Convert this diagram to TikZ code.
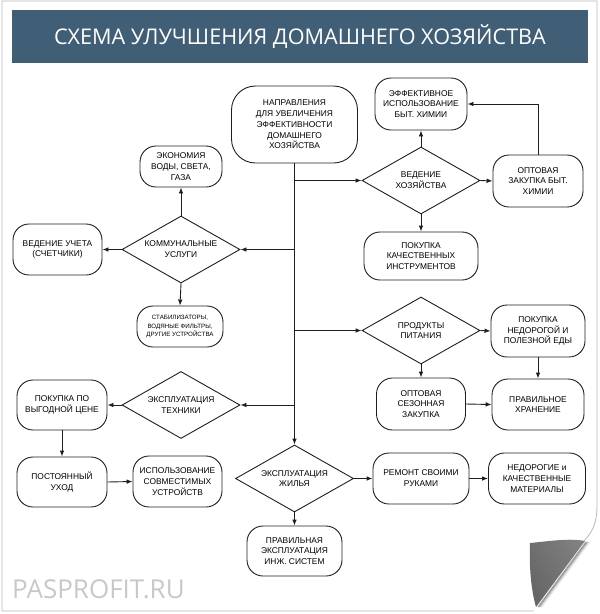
\documentclass[tikz,border=0pt]{standalone}
\usepackage{fontspec}
\setmainfont{Liberation Sans}
\newfontfamily\titlefont{Open Sans}
\usetikzlibrary{arrows.meta, positioning, shapes.geometric, calc}

\definecolor{barblue}{HTML}{405E75}
\definecolor{framegray}{HTML}{B8B8B8}
\definecolor{markgray}{HTML}{C8C8C8}
\definecolor{linegray}{HTML}{1E1E1E}

\begin{document}
\begin{tikzpicture}[x=1pt, y=-1pt,
    % Styles
    roundbox/.style={draw=linegray, line width=0.9pt, rounded corners=16pt, align=center,
        inner sep=1pt, font=\fontsize{8.4}{10.8}\selectfont},
    smallbox/.style={roundbox, font=\fontsize{6.2}{8.3}\selectfont},
    choice/.style={draw=linegray, diamond, aspect=1.76, inner sep=0pt, line width=0.9pt,
        minimum width=118pt, minimum height=67pt, align=center, font=\fontsize{8.4}{10.8}\selectfont},
    arrowstyle/.style={-{Latex[length=6pt, width=4.6pt]}, line width=0.9pt, linegray},
]
    \useasboundingbox (0,0) rectangle (600,614);

    % Page frame with curled corner
    \draw[framegray, line width=0.8pt] (584,541) .. controls (593,531) and (597,523) .. (597,505)
        -- (597,1) -- (2,1) -- (2,611) -- (534,611);
    \foreach \d/\o in {1/0.30,2/0.22,3/0.14,4/0.08,5/0.04}
        \draw[black, opacity=\o, line width=1.3pt] ([xshift=\d pt]585,542) -- ([xshift=\d pt]537,607);
    \shade[left color=black!60, middle color=white, right color=black!50, shading angle=118]
        (530,543) .. controls (550,541) and (570,538) .. (585,541) -- (536,607)
        .. controls (531,590) and (529,565) .. (530,543) -- cycle;

    % Title bar
    \node[fill=barblue, minimum width=576pt, minimum height=53pt, text=white,
        font=\titlefont\fontsize{21.6}{23}\selectfont] (bar) at (300,36.5) {СХЕМА УЛУЧШЕНИЯ ДОМАШНЕГО ХОЗЯЙСТВА};

    % Centre node
    \node[roundbox, minimum width=126pt, minimum height=77pt, rounded corners=24pt] (main) at (294.5,124.5)
        {НАПРАВЛЕНИЯ\\ДЛЯ УВЕЛИЧЕНИЯ\\ЭФФЕКТИВНОСТИ\\ДОМАШНЕГО\\ХОЗЯЙСТВА};

    % Utilities (left, top)
    \node[choice] (komm) at (181,249.5) {КОММУНАЛЬНЫЕ\\УСЛУГИ};
    \node[roundbox, minimum width=82pt, minimum height=41pt] (eco) at (181,166.5) {ЭКОНОМИЯ\\ВОДЫ, СВЕТА,\\ГАЗА};
    \node[roundbox, minimum width=89pt, minimum height=51pt] (meter) at (57.5,249.5) {ВЕДЕНИЕ УЧЕТА\\(СЧЕТЧИКИ)};
    \node[smallbox, minimum width=86pt, minimum height=41pt] (stab) at (180,326.5)
        {СТАБИЛИЗАТОРЫ,\\ВОДЯНЫЕ ФИЛЬТРЫ,\\ДРУГИЕ УСТРОЙСТВА};

    % Housekeeping (right, top)
    \node[choice] (hoz) at (421,180.5) {ВЕДЕНИЕ\\ХОЗЯЙСТВА};
    \node[roundbox, minimum width=92pt, minimum height=52pt] (eff) at (421,104) {ЭФФЕКТИВНОЕ\\ИСПОЛЬЗОВАНИЕ\\БЫТ. ХИМИИ};
    \node[roundbox, minimum width=90pt, minimum height=52pt] (bulk) at (538,181) {ОПТОВАЯ\\ЗАКУПКА БЫТ.\\ХИМИИ};
    \node[roundbox, minimum width=114pt, minimum height=48pt] (tools) at (421,256) {ПОКУПКА\\КАЧЕСТВЕННЫХ\\ИНСТРУМЕНТОВ};

    % Food (right, middle)
    \node[choice] (food) at (421,330.5) {ПРОДУКТЫ\\ПИТАНИЯ};
    \node[roundbox, minimum width=94pt, minimum height=52pt] (cheap) at (538,331) {ПОКУПКА\\НЕДОРОГОЙ И\\ПОЛЕЗНОЙ ЕДЫ};
    \node[roundbox, minimum width=89pt, minimum height=52pt] (season) at (421,404) {ОПТОВАЯ\\СЕЗОННАЯ\\ЗАКУПКА};
    \node[roundbox, minimum width=92pt, minimum height=51pt] (store) at (538,404.5) {ПРАВИЛЬНОЕ\\ХРАНЕНИЕ};

    % Appliances (left, bottom)
    \node[choice] (tech) at (181,405) {ЭКСПЛУАТАЦИЯ\\ТЕХНИКИ};
    \node[roundbox, minimum width=90pt, minimum height=50pt] (price) at (62,405) {ПОКУПКА ПО\\ВЫГОДНОЙ ЦЕНЕ};
    \node[roundbox, minimum width=90pt, minimum height=50pt] (care) at (62,482) {ПОСТОЯННЫЙ\\УХОД};
    \node[roundbox, minimum width=89pt, minimum height=51pt] (compat) at (177.5,481.5) {ИСПОЛЬЗОВАНИЕ\\СОВМЕСТИМЫХ\\УСТРОЙСТВ};

    % Housing (bottom)
    \node[choice] (house) at (294.5,478.5) {ЭКСПЛУАТАЦИЯ\\ЖИЛЬЯ};
    \node[roundbox, minimum width=96pt, minimum height=51pt] (repair) at (421,478.5) {РЕМОНТ СВОИМИ\\РУКАМИ};
    \node[roundbox, minimum width=97pt, minimum height=51pt] (mat) at (537,478.5) {НЕДОРОГИЕ и\\КАЧЕСТВЕННЫЕ\\МАТЕРИАЛЫ};
    \node[roundbox, minimum width=95pt, minimum height=50pt] (eng) at (294.5,551) {ПРАВИЛЬНАЯ\\ЭКСПЛУАТАЦИЯ\\ИНЖ. СИСТЕМ};

    % Watermark
    \node[markgray, font=\titlefont\fontsize{26}{26}\selectfont, anchor=west, inner sep=0pt] (mark) at (12,589) {PASPROFIT.RU};

    % Trunk and branches
    \draw[arrowstyle] (main.south) -- (house.north);
    \draw[arrowstyle] (main.south |- hoz.west) -- (hoz.west);
    \draw[arrowstyle] (main.south |- komm.east) -- (komm.east);
    \draw[arrowstyle] (main.south |- food.west) -- (food.west);
    \draw[arrowstyle] (main.south |- tech.east) -- (tech.east);

    % Utilities
    \draw[arrowstyle] (komm.north) -- (eco.south);
    \draw[arrowstyle] (komm.west) -- (meter.east);
    \draw[arrowstyle] (komm.south) -- (stab.north);

    % Housekeeping
    \draw[arrowstyle] (hoz.north) -- (eff.south);
    \draw[arrowstyle] (hoz.east) -- (bulk.west);
    \draw[arrowstyle] (hoz.south) -- (tools.north);
    \draw[arrowstyle] (bulk.north) |- (eff.east);

    % Food
    \draw[arrowstyle] (food.east) -- (cheap.west);
    \draw[arrowstyle] (food.south) -- (season.north);
    \draw[arrowstyle] (cheap.south) -- (store.north);
    \draw[arrowstyle] (season.east) -- (store.west);

    % Appliances
    \draw[arrowstyle] (tech.west) -- (price.east);
    \draw[arrowstyle] (price.south) -- (care.north);
    \draw[arrowstyle] (care.east) -- (compat.west);

    % Housing
    \draw[arrowstyle] (house.east) -- (repair.west);
    \draw[arrowstyle] (repair.east) -- (mat.west);
    \draw[arrowstyle] (house.south) -- (eng.north);

\end{tikzpicture}
\end{document}
